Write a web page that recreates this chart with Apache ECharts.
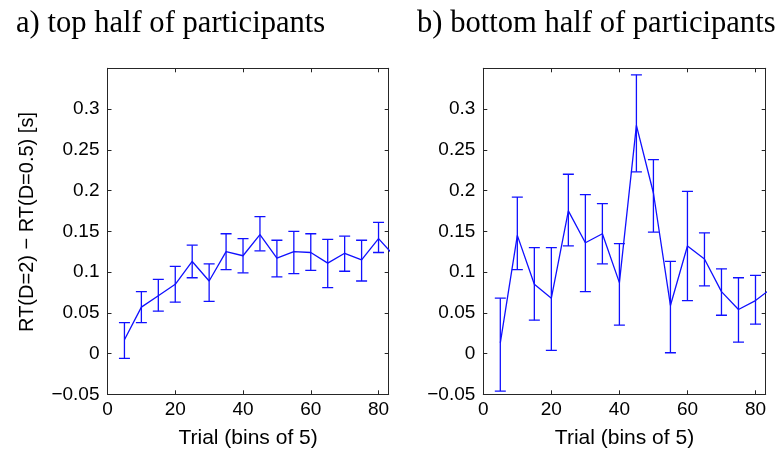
<!DOCTYPE html>
<html>
<head>
<meta charset="utf-8">
<script src="https://cdn.jsdelivr.net/npm/echarts@6/dist/echarts.min.js"></script>
<style>html,body{margin:0;padding:0;background:#fff}#c{width:778px;height:456px}</style>
</head>
<body>
<div id="c"></div>
<script>
// ---- data ----
const trials = [5, 10, 15, 20, 25, 30, 35, 40, 45, 50, 55, 60, 65, 70, 75, 80, 85];
const topMean = [0.017, 0.057, 0.071, 0.085, 0.113, 0.089, 0.125, 0.120, 0.146, 0.117, 0.125, 0.124, 0.111, 0.123, 0.115, 0.141, 0.118];
const topLow  = [-0.006, 0.038, 0.052, 0.063, 0.093, 0.064, 0.103, 0.099, 0.126, 0.094, 0.098, 0.102, 0.081, 0.101, 0.089, 0.124, 0.098];
const topHigh = [0.038, 0.076, 0.091, 0.107, 0.133, 0.110, 0.147, 0.141, 0.168, 0.139, 0.150, 0.147, 0.140, 0.144, 0.139, 0.161, 0.138];
const botMean = [0.013, 0.145, 0.085, 0.068, 0.175, 0.136, 0.147, 0.087, 0.280, 0.197, 0.059, 0.132, 0.116, 0.076, 0.054, 0.065, 0.081];
const botLow  = [-0.046, 0.103, 0.041, 0.004, 0.132, 0.076, 0.110, 0.035, 0.223, 0.149, 0.001, 0.065, 0.083, 0.047, 0.014, 0.036, 0.050];
const botHigh = [0.068, 0.192, 0.130, 0.130, 0.220, 0.195, 0.184, 0.135, 0.342, 0.238, 0.113, 0.199, 0.148, 0.104, 0.093, 0.096, 0.110];
const xTicks = [0, 20, 40, 60, 80];
const yTicks = [-0.05, 0, 0.05, 0.1, 0.15, 0.2, 0.25, 0.3];
const titles = ['a) top half of participants', 'b) bottom half of participants'];
const xName = 'Trial (bins of 5)';
const yName = 'RT(D=2) \u2212 RT(D=0.5) [s]';

// ---- chart ----
const BLUE = '#1010ff';
const AX = '#262626';
const FS = 19;

function yLabel(v) {
  const r = Math.round(v * 100) / 100;
  const hit = yTicks.some(t => Math.abs(t - r) < 1e-9);
  if (!hit) return '';
  return (r < 0 ? '\u2212' : '') + String(Math.abs(r));
}
function xLabel(v) { return xTicks.indexOf(v) >= 0 ? String(v) : ''; }

function mkX(gi, pos) {
  const bottom = pos === 'bottom';
  return {
    type: 'value', gridIndex: gi, position: pos, min: 0, max: 83, interval: 20,
    name: bottom ? xName : '', nameLocation: 'middle', nameGap: 33,
    nameTextStyle: { fontFamily: 'Liberation Sans', fontSize: 21, color: '#000' },
    axisLine: { show: true, onZero: false, lineStyle: { color: AX, width: 1 } },
    axisTick: { show: true, inside: true, length: 4, lineStyle: { color: AX } },
    axisLabel: { show: bottom, showMaxLabel: false, margin: 6, fontFamily: 'Liberation Sans', fontSize: FS, color: '#000', formatter: xLabel },
    splitLine: { show: false }
  };
}
function mkY(gi, pos) {
  const left = pos === 'left';
  return {
    type: 'value', gridIndex: gi, position: pos, min: -0.05, max: 0.35, interval: 0.05,
    axisLine: { show: true, onZero: false, lineStyle: { color: AX, width: 1 } },
    axisTick: { show: true, inside: true, length: 4, lineStyle: { color: AX } },
    axisLabel: { show: left, showMaxLabel: false, margin: 8, fontFamily: 'Liberation Sans', fontSize: FS, color: '#000', formatter: yLabel },
    splitLine: { show: false }
  };
}

function errSeries(gi, low, high) {
  const data = trials.map((t, i) => [t, low[i], high[i]]);
  return {
    type: 'custom', xAxisIndex: gi * 2, yAxisIndex: gi * 2, clip: true, silent: true,
    data: data,
    encode: { x: 0, y: [1, 2] },
    renderItem: function (params, api) {
      const x = api.value(0);
      const lo = api.coord([x, api.value(1)]);
      const hi = api.coord([x, api.value(2)]);
      const w = 5.5;
      const st = { stroke: BLUE, lineWidth: 1.3 };
      return {
        type: 'group',
        children: [
          { type: 'line', shape: { x1: lo[0], y1: lo[1], x2: hi[0], y2: hi[1] }, style: st },
          { type: 'line', shape: { x1: lo[0] - w, y1: lo[1], x2: lo[0] + w, y2: lo[1] }, style: st },
          { type: 'line', shape: { x1: hi[0] - w, y1: hi[1], x2: hi[0] + w, y2: hi[1] }, style: st }
        ]
      };
    }
  };
}
function lineSeries(gi, mean) {
  return {
    type: 'line', xAxisIndex: gi * 2, yAxisIndex: gi * 2, clip: true, silent: true,
    data: trials.map((t, i) => [t, mean[i]]),
    showSymbol: false, symbol: 'none',
    lineStyle: { color: BLUE, width: 1.3 }
  };
}

const chart = echarts.init(document.getElementById('c'), null, { renderer: 'canvas' });
chart.setOption({
  animation: false,
  backgroundColor: '#fff',
  title: [
    { text: titles[0], left: 11, top: 3, textStyle: { fontFamily: 'Liberation Serif', fontSize: 30.6, fontWeight: 'normal', color: '#000' } },
    { text: titles[1], left: 412, top: 3, textStyle: { fontFamily: 'Liberation Serif', fontSize: 30.6, fontWeight: 'normal', color: '#000' } }
  ],
  graphic: [
    { type: 'text', x: 27, y: 222, rotation: Math.PI / 2,
      style: { text: yName, fontFamily: 'Liberation Sans', fontSize: 20, fill: '#000', align: 'center', verticalAlign: 'middle' } }
  ],
  grid: [
    { left: 107.5, right: 389.3, top: 68.3, bottom: 61.7 },
    { left: 483.3, right: 12.3, top: 68.3, bottom: 61.7 }
  ],
  xAxis: [mkX(0, 'bottom'), mkX(0, 'top'), mkX(1, 'bottom'), mkX(1, 'top')],
  yAxis: [mkY(0, 'left'), mkY(0, 'right'), mkY(1, 'left'), mkY(1, 'right')],
  series: [
    lineSeries(0, topMean), errSeries(0, topLow, topHigh),
    lineSeries(1, botMean), errSeries(1, botLow, botHigh)
  ]
});
</script>
</body>
</html>
